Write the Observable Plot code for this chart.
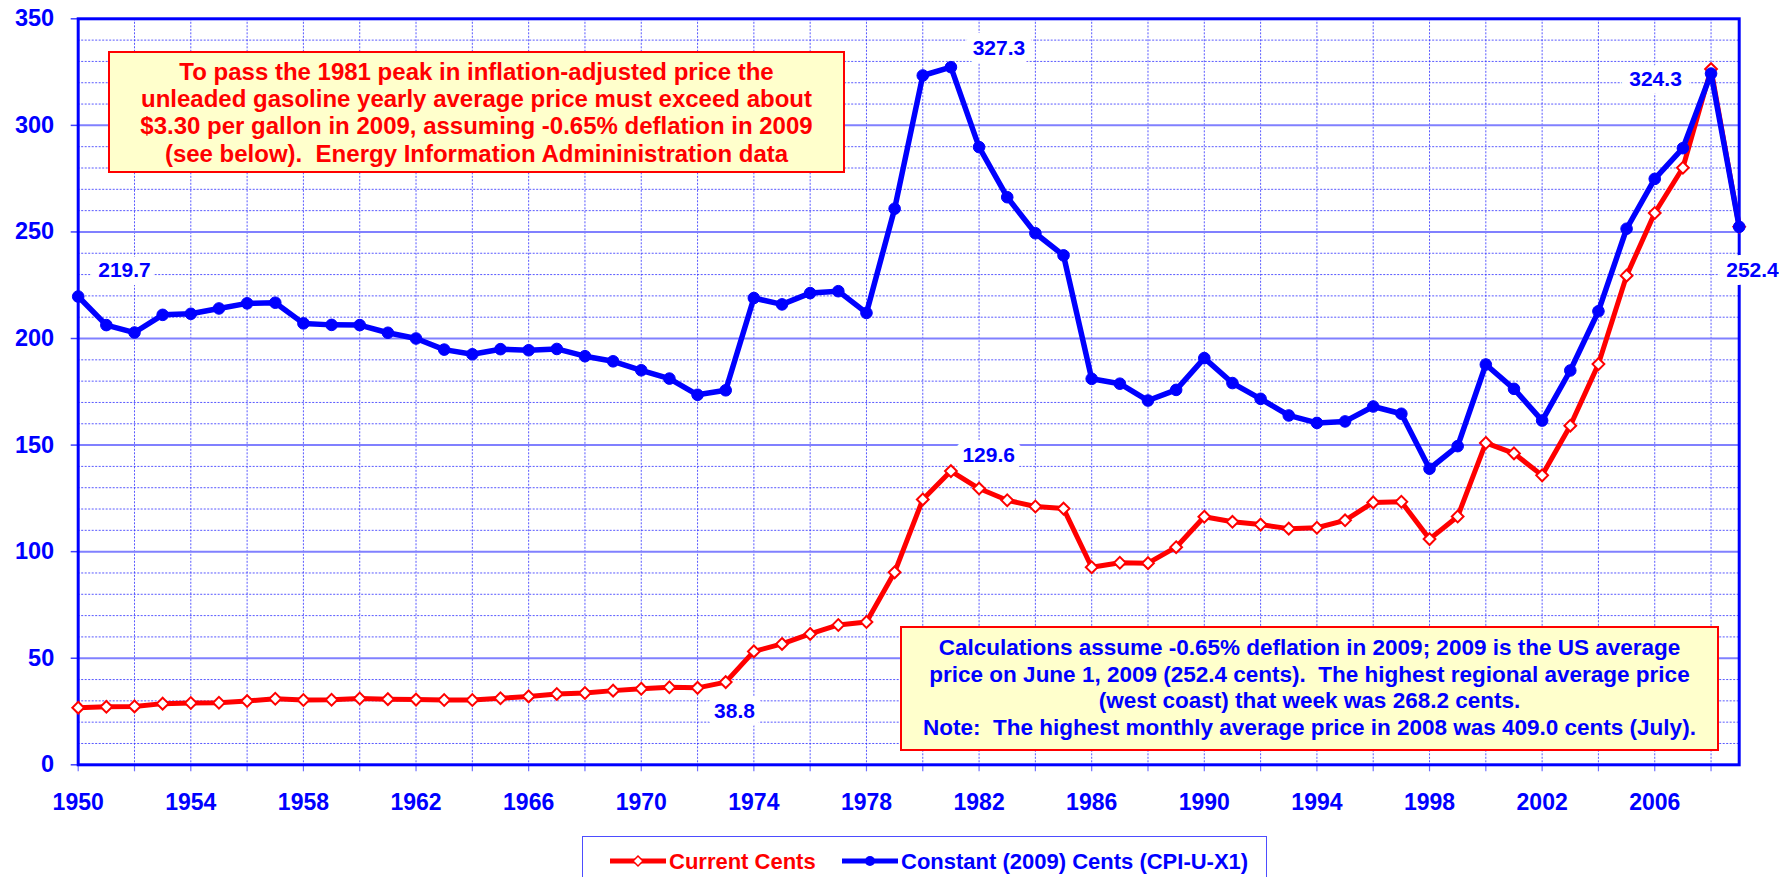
<!DOCTYPE html>
<html>
<head>
<meta charset="utf-8">
<script src="https://cdn.jsdelivr.net/npm/d3@7"></script>
<script src="https://cdn.jsdelivr.net/npm/@observablehq/plot@0.6"></script>
<style>
  html, body { margin: 0; padding: 0; background: #ffffff; overflow: hidden; }
  #wrap { position: relative; width: 1779px; height: 877px; overflow: hidden;
          font-family: "Liberation Sans", Arial, sans-serif; font-weight: bold; }
  #wrap > svg { position: absolute; left: 0; top: 0; }
  .note { position: absolute; box-sizing: border-box; background: #ffffcc;
          border: 2.5px solid #ff0000; text-align: center; white-space: pre; }
  #note1 { left: 108px; top: 51px; width: 737px; height: 122px; color: #ff0000;
           font-size: 24px; line-height: 27.4px; padding-top: 4.5px; }
  #note2 { left: 900px; top: 626px; width: 819px; height: 125px; color: #0000ff;
           font-size: 22.5px; line-height: 26.5px; padding-top: 7px; }
  #legend { position: absolute; left: 582px; top: 836px; width: 685px; height: 70px;
            box-sizing: border-box; border: 1px solid #4d4dff; background: #fff; }
  #legend .sw { position: absolute; top: 15px; }
  #legend .lt { position: absolute; top: 12px; font-size: 22px; line-height: 26px; white-space: pre; }
</style>
</head>
<body>
<div id="wrap">
  <div class="note" id="note1"></div>
  <div class="note" id="note2"></div>
  <div id="legend"></div>
</div>
<script>
// ---------------- data ----------------
const years = [
  1950, 1951, 1952, 1953, 1954, 1955, 1956, 1957, 1958, 1959,
  1960, 1961, 1962, 1963, 1964, 1965, 1966, 1967, 1968, 1969,
  1970, 1971, 1972, 1973, 1974, 1975, 1976, 1977, 1978, 1979,
  1980, 1981, 1982, 1983, 1984, 1985, 1986, 1987, 1988, 1989,
  1990, 1991, 1992, 1993, 1994, 1995, 1996, 1997, 1998, 1999,
  2000, 2001, 2002, 2003, 2004, 2005, 2006, 2007, 2008, 2009
];
const currentCents = [
  26.8, 27.2, 27.4, 28.7, 29.0, 29.1, 29.9, 31.0, 30.4, 30.5,
  31.1, 30.8, 30.6, 30.4, 30.4, 31.2, 32.1, 33.2, 33.7, 34.8,
  35.7, 36.4, 36.1, 38.8, 53.2, 56.7, 61.4, 65.6, 67.0, 90.3,
  124.5, 137.8, 129.6, 124.1, 121.2, 120.2, 92.7, 94.8, 94.6, 102.1,
  116.4, 114.0, 112.7, 110.8, 111.2, 114.7, 123.1, 123.4, 105.9, 116.5,
  151.0, 146.1, 135.8, 159.1, 188.0, 229.5, 258.9, 280.1, 326.4, 252.4
];
const constantCents = [
  219.7, 206.3, 202.8, 211.1, 211.6, 214.1, 216.5, 216.8, 207.1, 206.4,
  206.3, 202.7, 200.0, 194.8, 192.6, 195.0, 194.5, 195.1, 191.7, 189.3,
  185.1, 181.2, 173.6, 175.7, 219.0, 216.0, 221.3, 222.2, 212.0, 260.9,
  323.4, 327.3, 289.8, 266.3, 249.4, 239.0, 181.1, 178.8, 170.9, 175.9,
  190.8, 179.1, 171.7, 163.9, 160.4, 161.1, 168.1, 164.7, 138.9, 149.5,
  187.8, 176.4, 161.5, 185.0, 212.8, 251.5, 274.9, 289.3, 324.3, 252.4
];
const seriesNames = ["Current Cents", "Constant (2009) Cents (CPI-U-X1)"];
const xTickLabels = [1950, 1954, 1958, 1962, 1966, 1970, 1974, 1978, 1982, 1986, 1990, 1994, 1998, 2002, 2006];
const yTickLabels = [0, 50, 100, 150, 200, 250, 300, 350];
const note1Lines = [
  "To pass the 1981 peak in inflation-adjusted price the",
  "unleaded gasoline yearly average price must exceed about",
  "$3.30 per gallon in 2009, assuming -0.65% deflation in 2009",
  "(see below).  Energy Information Admininistration data"
];
const note2Lines = [
  "Calculations assume -0.65% deflation in 2009; 2009 is the US average",
  "price on June 1, 2009 (252.4 cents).  The highest regional average price",
  "(west coast) that week was 268.2 cents.",
  "Note:  The highest monthly average price in 2008 was 409.0 cents (July)."
];

// ---------------- tables ----------------
const current = years.map((year, i) => ({year, value: currentCents[i], series: seriesNames[0]}));
const constant = years.map((year, i) => ({year, value: constantCents[i], series: seriesNames[1]}));

const minorGridY = d3.range(10, 350, 10).filter(v => v % 50 !== 0);
const majorGridY = yTickLabels.filter(v => v > 0 && v < 350);
const gridYears = d3.range(1952, 2009, 2);
const tickYears = d3.range(1950, 2010, 2);

const BLUE = "#0000ff", RED = "#ff0000";
const labelStyle = {x: "year", y: "value", text: d => d.value.toFixed(1), fill: BLUE, fontSize: 21,
  fontWeight: "bold", stroke: "white", strokeWidth: 16, paintOrder: "stroke", strokeLinejoin: "round"};
const pick = (arr, yr) => arr.filter(d => d.year === yr);

const chart = Plot.plot({
  width: 1779,
  height: 830,
  marginLeft: 77.7,
  marginRight: 40.3,
  marginTop: 18.3,
  marginBottom: 65.7,
  x: {domain: [1950, 2009], axis: null},
  y: {domain: [0, 350], axis: null},
  style: {fontFamily: "'Liberation Sans', Arial, sans-serif", fontWeight: "bold", background: "white", overflow: "visible"},
  marks: [
    Plot.gridY(minorGridY, {stroke: "#3030ff", strokeOpacity: 0.8, strokeWidth: 1, strokeDasharray: "2,1.5"}),
    Plot.gridX(gridYears, {stroke: "#3030ff", strokeOpacity: 0.8, strokeWidth: 1, strokeDasharray: "2,1.5"}),
    Plot.gridY(majorGridY, {stroke: "#8080ff", strokeOpacity: 1, strokeWidth: 2}),
    Plot.axisY(yTickLabels, {tickSize: 7, tickPadding: 17, tickFormat: d => String(d), fontSize: 23.5,
      fontWeight: "bold", fill: BLUE, stroke: "#4040ff", strokeWidth: 1.5, label: null}),
    Plot.axisX(tickYears, {tickSize: 7, fill: "none", stroke: "#7070ff", strokeWidth: 1.2, label: null}),
    Plot.text(xTickLabels, {x: d => d, text: d => String(d), frameAnchor: "bottom", dy: 37.4,
      lineAnchor: "middle", fontSize: 23, fontWeight: "bold", fill: BLUE}),
    Plot.frame({stroke: BLUE, strokeWidth: 3}),
    Plot.line(current, {x: "year", y: "value", stroke: RED, strokeWidth: 5, strokeLinejoin: "round"}),
    Plot.dot(current, {x: "year", y: "value", symbol: "diamond2", r: 5.3, fill: "white", stroke: RED, strokeWidth: 2}),
    Plot.line(constant, {x: "year", y: "value", stroke: BLUE, strokeWidth: 5.5, strokeLinejoin: "round"}),
    Plot.dot(constant, {x: "year", y: "value", r: 5.8, fill: BLUE, stroke: BLUE, strokeWidth: 1}),
    Plot.text(pick(constant, 1950), {...labelStyle, dx: 46.3, dy: -26.7}),
    Plot.text(pick(constant, 1981), {...labelStyle, dx: 48, dy: -19.4}),
    Plot.text(pick(constant, 2008), {...labelStyle, dx: -55.5, dy: 6}),
    Plot.text(pick(constant, 2009), {...labelStyle, dx: 13.3, dy: 43.7}),
    Plot.text(pick(current, 1982), {...labelStyle, dx: 9.6, dy: -33.8}),
    Plot.text(pick(current, 1973), {...labelStyle, dx: 8.8, dy: 29.4})
  ]
});
document.getElementById("wrap").prepend(chart);

document.getElementById("note1").textContent = note1Lines.join("\n");
document.getElementById("note2").textContent = note2Lines.join("\n");

// ---------------- legend ----------------
const legend = document.getElementById("legend");
legend.innerHTML = `
  <svg class="sw" style="left:26px" width="58" height="18">
    <line x1="1" y1="9" x2="57" y2="9" stroke="${RED}" stroke-width="5"/>
    <path d="M29,4 L34,9 L29,14 L24,9 Z" fill="white" stroke="${RED}" stroke-width="1.5"/>
  </svg>
  <div class="lt" style="left:86px;color:${RED}">${seriesNames[0]}</div>
  <svg class="sw" style="left:258px" width="58" height="18">
    <line x1="1" y1="9" x2="57" y2="9" stroke="${BLUE}" stroke-width="5"/>
    <circle cx="29" cy="9" r="5" fill="${BLUE}"/>
  </svg>
  <div class="lt" style="left:318px;color:${BLUE}">${seriesNames[1]}</div>`;
</script>
</body>
</html>
